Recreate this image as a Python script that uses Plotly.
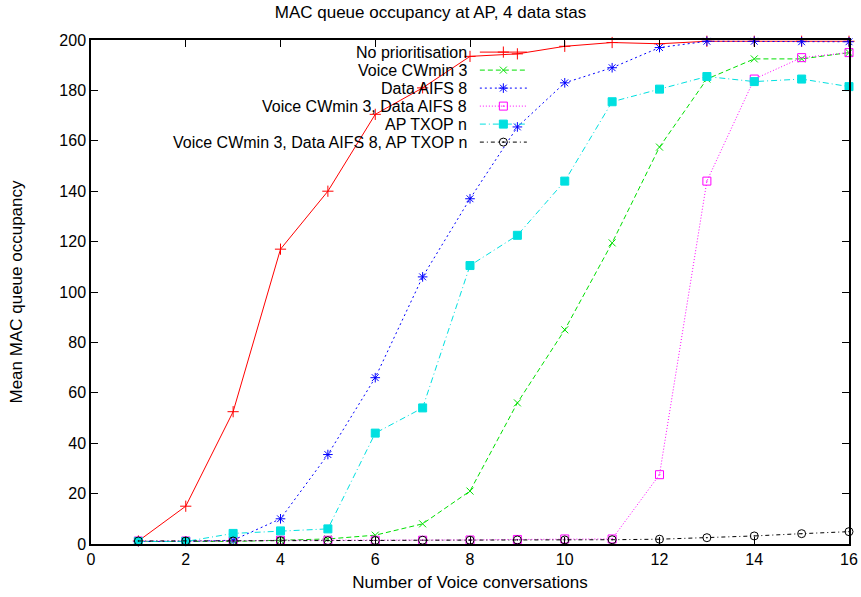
import plotly.graph_objects as go

# Number of voice conversations
conversations = list(range(1, 17))

# Mean MAC queue occupancy at the AP for each configuration
no_prio = [1.2, 15, 52.5, 117, 140, 170.5, 181, 193.5, 194.5, 197.5, 199, 198.5, 199.5, 199.5, 199.5, 199.5]
voice_cw3 = [1, 1, 1, 1.5, 2, 3.5, 8, 21, 56, 85, 119.5, 157.5, 184.5, 192.5, 192.5, 195]
data_aifs8 = [1, 1, 1.5, 10, 35.5, 66, 106, 137, 165.5, 183, 189, 197, 199.5, 199.5, 199.3, 199.3]
voice_cw3_data_aifs8 = [1.2, 1.2, 1.2, 1.5, 1.5, 1.5, 1.5, 1.6, 1.8, 2, 2, 27.5, 144, 184.5, 193, 195]
ap_txop = [1, 1, 4.2, 5.2, 6, 44, 54, 110.5, 122.5, 144, 175.5, 180.5, 185.5, 183.5, 184.5, 181.5]
all_three = [1.2, 1.2, 1.2, 1.3, 1.3, 1.4, 1.5, 1.5, 1.6, 1.6, 1.7, 1.9, 2.5, 3.2, 4.1, 4.9]

series_names = [
    "No prioritisation",
    "Voice CWmin 3",
    "Data AIFS 8",
    "Voice CWmin 3, Data AIFS 8",
    "AP TXOP n",
    "Voice CWmin 3, Data AIFS 8, AP TXOP n",
]
series_values = [no_prio, voice_cw3, data_aifs8, voice_cw3_data_aifs8, ap_txop, all_three]

styles = [
    dict(color="#ff0000", dash="solid", symbol="cross-thin", size=8),
    dict(color="#00e000", dash="5px,3px", symbol="x-thin", size=7),
    dict(color="#0000ff", dash="2px,3px", symbol="asterisk", size=8),
    dict(color="#ff00ff", dash="1px,2px", symbol="square-open-dot", size=8),
    dict(color="#00e0e0", dash="6px,3px,1px,3px", symbol="square", size=8),
    dict(color="#000000", dash="4px,3px,1px,3px", symbol="circle-open-dot", size=8),
]

FONT = "Liberation Sans, Arial, sans-serif"
TEXT_SIZE = 17
KEY_SIZE = 16
TICK_SIZE = 16

fig = go.Figure()

for name, vals, st in zip(series_names, series_values, styles):
    fig.add_trace(go.Scatter(
        x=conversations, y=vals, name=name, mode="lines+markers",
        line=dict(color=st["color"], width=1, dash=st["dash"]),
        marker=dict(symbol=st["symbol"], size=st["size"], color=st["color"],
                    line=dict(color=st["color"], width=1)),
        cliponaxis=False, showlegend=False,
    ))

# Key drawn gnuplot-style: label on the left, line sample on the right
key_x0, key_x1 = 0.513, 0.575
key_text_x = 0.497
key_top, key_step = 0.976, 18 / 504
for i, (name, st) in enumerate(zip(series_names, styles)):
    yk = key_top - i * key_step
    fig.add_trace(go.Scatter(
        x=[key_x0, key_x1], y=[yk, yk],
        xaxis="x2", yaxis="y2", mode="lines",
        line=dict(color=st["color"], width=1, dash=st["dash"]),
        showlegend=False, hoverinfo="skip",
    ))
    fig.add_trace(go.Scatter(
        x=[(key_x0 + key_x1) / 2], y=[yk], xaxis="x2", yaxis="y2", mode="markers",
        marker=dict(symbol=st["symbol"], size=st["size"], color=st["color"],
                    line=dict(color=st["color"], width=1)),
        showlegend=False, hoverinfo="skip",
    ))
    fig.add_annotation(
        x=key_text_x, y=yk, xref="x2", yref="y2", text=name,
        showarrow=False, xanchor="right", yanchor="middle", borderpad=0,
        font=dict(family=FONT, size=KEY_SIZE, color="black"),
    )

axis_common = dict(
    showline=True, linecolor="black", linewidth=1.5, mirror="ticks",
    ticks="inside", ticklen=7, tickcolor="black", tickwidth=1,
    showgrid=False, zeroline=False, automargin=False,
    tickfont=dict(family=FONT, size=TICK_SIZE, color="black"),
)

fig.update_layout(
    width=861, height=597,
    margin=dict(l=91, r=12, t=40, b=53),
    paper_bgcolor="white", plot_bgcolor="white",
    title=dict(text="MAC queue occupancy at AP, 4 data stas", x=0.5, xanchor="center",
               y=1 - 12 / 597, yanchor="middle",
               font=dict(family=FONT, size=TEXT_SIZE, color="black")),
    xaxis=dict(range=[0, 16], dtick=2, tick0=0,
               title=dict(text="Number of Voice conversations", standoff=9,
                          font=dict(family=FONT, size=TEXT_SIZE, color="black")),
               **axis_common),
    yaxis=dict(range=[0, 200], dtick=20, tick0=0,
               title=dict(text="Mean MAC queue occupancy", standoff=32,
                          font=dict(family=FONT, size=TEXT_SIZE, color="black")),
               **axis_common),
    xaxis2=dict(overlaying="x", range=[0, 1], visible=False),
    yaxis2=dict(overlaying="y", range=[0, 1], visible=False),
    showlegend=False,
)

fig.write_html("out.html")
